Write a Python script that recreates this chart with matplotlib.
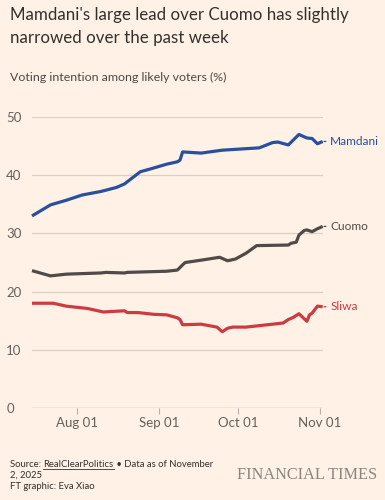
import matplotlib
matplotlib.use("Agg")
import matplotlib.pyplot as plt
import matplotlib.dates as mdates
import pandas as pd

# ---- data ----
mamdani_dates = ["2025-07-15", "2025-07-22", "2025-07-28", "2025-08-03", "2025-08-10",
                 "2025-08-16", "2025-08-19", "2025-08-21", "2025-08-23", "2025-08-25",
                 "2025-08-29", "2025-09-04", "2025-09-08", "2025-09-09", "2025-09-10",
                 "2025-09-17", "2025-09-25", "2025-10-09", "2025-10-14", "2025-10-16",
                 "2025-10-20", "2025-10-24", "2025-10-27", "2025-10-29", "2025-10-31",
                 "2025-11-02"]
mamdani_vals = [33.0, 34.9, 35.7, 36.6, 37.2,
                37.9, 38.5, 39.2, 39.9, 40.6,
                41.1, 41.9, 42.3, 42.6, 44.0,
                43.8, 44.3, 44.7, 45.6, 45.7,
                45.2, 47.0, 46.4, 46.3, 45.4,
                45.8]

cuomo_dates = ["2025-07-15", "2025-07-22", "2025-07-28", "2025-08-10", "2025-08-12",
               "2025-08-19", "2025-08-20", "2025-09-04", "2025-09-08", "2025-09-10",
               "2025-09-11", "2025-09-17", "2025-09-24", "2025-09-27", "2025-09-30",
               "2025-10-04", "2025-10-08", "2025-10-20", "2025-10-21", "2025-10-23",
               "2025-10-24", "2025-10-26", "2025-10-27", "2025-10-29", "2025-10-31",
               "2025-11-02"]
cuomo_vals = [23.6, 22.7, 23.0, 23.2, 23.3,
              23.2, 23.3, 23.5, 23.7, 24.6,
              25.0, 25.4, 25.9, 25.3, 25.6,
              26.6, 27.9, 28.0, 28.3, 28.5,
              29.7, 30.5, 30.6, 30.3, 30.8,
              31.2]

sliwa_dates = ["2025-07-15", "2025-07-23", "2025-07-28", "2025-08-05", "2025-08-11",
               "2025-08-19", "2025-08-20", "2025-08-24", "2025-08-30", "2025-09-04",
               "2025-09-08", "2025-09-09", "2025-09-10", "2025-09-17", "2025-09-23",
               "2025-09-24", "2025-09-25", "2025-09-27", "2025-09-29", "2025-10-04",
               "2025-10-12", "2025-10-18", "2025-10-20", "2025-10-22", "2025-10-24",
               "2025-10-27", "2025-10-28", "2025-10-29", "2025-10-31", "2025-11-02"]
sliwa_vals = [18.0, 18.0, 17.5, 17.1, 16.5,
              16.7, 16.4, 16.4, 16.1, 16.0,
              15.5, 15.2, 14.3, 14.4, 13.9,
              13.5, 13.1, 13.7, 13.9, 13.9,
              14.3, 14.6, 15.2, 15.6, 16.2,
              14.9, 16.0, 16.3, 17.5, 17.4]

series = [
    ("Mamdani", mamdani_dates, mamdani_vals, "#2a4f9e"),
    ("Cuomo", cuomo_dates, cuomo_vals, "#4f4b48"),
    ("Sliwa", sliwa_dates, sliwa_vals, "#cc3b42"),
]

y_ticks = [0, 10, 20, 30, 40, 50]
x_ticks = ["2025-08-01", "2025-09-01", "2025-10-01", "2025-11-01"]
x_range = ["2025-07-15", "2025-11-02"]

title_lines = ["Mamdani's large lead over Cuomo has slightly", "narrowed over the past week"]
subtitle = "Voting intention among likely voters (%)"

# ---- style ----
BG = "#fff1e5"
FONT = "Lato"
W, H = 385, 500
plt.rcParams["font.family"] = [FONT, "DejaVu Sans"]

fig = plt.figure(figsize=(W / 100, H / 100), dpi=100, facecolor=BG)
left, right = 32 / W, 322.7 / W
bottom, top = (H - 408) / H, (H - 117) / H
ax = fig.add_axes([left, bottom, right - left, top - bottom], facecolor=BG)

for name, d, v, c in series:
    dd = pd.to_datetime(d)
    ax.plot(dd, v, color=c, lw=2.3, solid_joinstyle="round", solid_capstyle="butt",
            clip_on=False, zorder=3)
    ax.annotate(name, xy=(dd[-1], v[-1]), xytext=(5.5, 0), textcoords="offset points",
                va="center", ha="left", fontsize=8.6, color=c,
                arrowprops=dict(arrowstyle="-", color=c, lw=0.9, shrinkA=1.2, shrinkB=1.0),
                annotation_clip=False)

ax.set_ylim(0, 50)
ax.set_xlim(pd.to_datetime(x_range[0]), pd.to_datetime(x_range[1]))
ax.set_yticks(y_ticks)
ax.set_xticks(pd.to_datetime(x_ticks))
ax.xaxis.set_major_formatter(mdates.DateFormatter("%b %d"))

for s in ax.spines.values():
    s.set_visible(False)
ax.grid(axis="y", color="#dcd0c5", lw=0.9)
ax.grid(axis="x", visible=False)
ax.axhline(0, color="#b8aea6", lw=0.9, zorder=2)
ax.set_axisbelow(True)

ax.tick_params(axis="y", length=0, pad=18.5, labelsize=9.5, labelcolor="#66605c")
for lab in ax.get_yticklabels():
    lab.set_horizontalalignment("left")
ax.tick_params(axis="x", length=4.5, width=0.8, color="#b8aea6", pad=2,
               labelsize=9.5, labelcolor="#66605c")

# ---- titles ----
fig.text(10 / W, 1 - 20 / H, title_lines[0], fontsize=12.2, color="#33302e", va="baseline")
fig.text(10 / W, 1 - 42.7 / H, title_lines[1], fontsize=12.2, color="#33302e", va="baseline")
fig.text(10 / W, 1 - 81 / H, subtitle, fontsize=8.9, color="#4d4845", va="baseline")

# ---- footer ----
fcol = "#33302e"
fs = 6.85
t1 = fig.text(10 / W, 1 - 466.7 / H, "Source: ", fontsize=fs, color=fcol, va="baseline")
fig.canvas.draw()
r = fig.canvas.get_renderer()
bb1 = t1.get_window_extent(r)
t2 = fig.text(bb1.x1 / W, 1 - 466.7 / H, "RealClearPolitics", fontsize=fs, color=fcol, va="baseline")
bb2 = t2.get_window_extent(r)
fig.add_artist(plt.Line2D([bb2.x0 / W, bb2.x1 / W], [1 - 468.5 / H, 1 - 468.5 / H],
                          color=fcol, lw=0.6))
fig.text(bb2.x1 / W, 1 - 466.7 / H, " \u2022 Data as of November", fontsize=fs, color=fcol, va="baseline")
fig.text(10 / W, 1 - 478.0 / H, "2, 2025", fontsize=fs, color=fcol, va="baseline")
fig.text(10 / W, 1 - 489.3 / H, "FT graphic: Eva Xiao", fontsize=fs, color=fcol, va="baseline")

fig.text(377 / W, 1 - 479 / H, "FINANCIAL TIMES", fontsize=11.7, color="#8a837e",
         family="Liberation Serif", ha="right", va="baseline")

fig.savefig("out.png", dpi=100, facecolor=BG)
